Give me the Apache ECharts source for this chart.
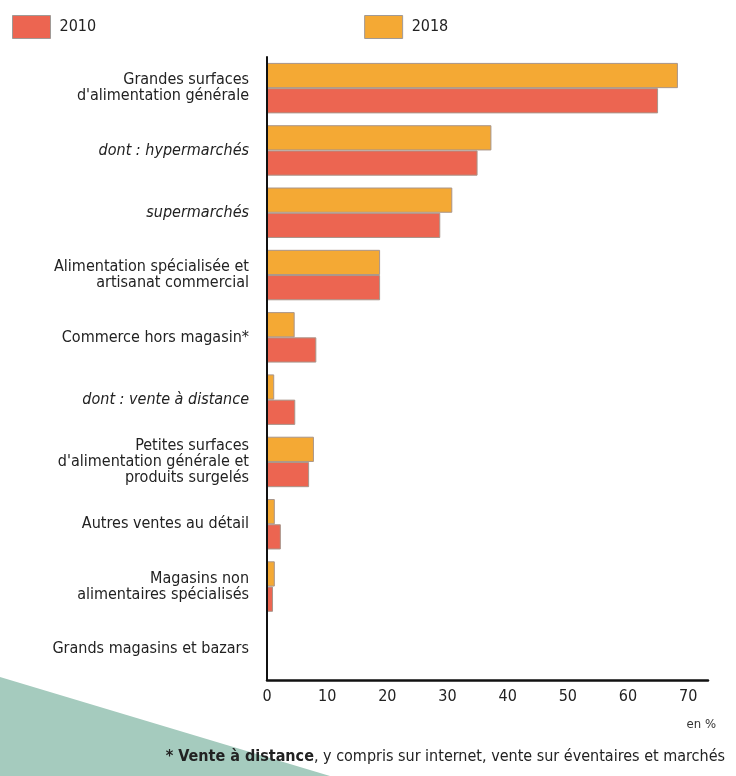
<!DOCTYPE html>
<html>
<head>
<meta charset="utf-8">
<script src="https://cdn.jsdelivr.net/npm/echarts@6/dist/echarts.min.js"></script>
<style>
html,body{margin:0;padding:0;background:#fff;}
#main{width:736px;height:776px;}
</style>
</head>
<body>
<div id="main"></div>
<script>
var categories = [
  "Grandes surfaces\nd'alimentation générale",
  "dont : hypermarchés",
  "supermarchés",
  "Alimentation spécialisée et\nartisanat commercial",
  "Commerce hors magasin*",
  "dont : vente à distance",
  "Petites surfaces\nd'alimentation générale et\nproduits surgelés",
  "Autres ventes au détail",
  "Magasins non\nalimentaires spécialisés",
  "Grands magasins et bazars"
];
var italicCategories = ["dont : hypermarchés", "supermarchés", "dont : vente à distance"];
var values2010 = [65.0, 35.0, 28.8, 18.8, 8.2, 4.7, 7.0, 2.3, 1.0, 0];
var values2018 = [68.3, 37.3, 30.8, 18.8, 4.6, 1.2, 7.8, 1.3, 1.3, 0];
var xTicks = [0, 10, 20, 30, 40, 50, 60, 70];

var FONT = "'DejaVu Sans Condensed', 'Liberation Sans Narrow', sans-serif";
var C2010 = '#EC6551';
var C2018 = '#F4A934';

var chart = echarts.init(document.getElementById('main'), null, {renderer: 'canvas'});
chart.setOption({
  animation: false,
  backgroundColor: '#ffffff',
  textStyle: {fontFamily: FONT},
  graphic: [{
    type: 'polygon',
    z: -10,
    silent: true,
    shape: {points: [[0, 677], [330, 776], [0, 776]]},
    style: {fill: '#A5CBBE'}
  }],
  title: [{
    text: 'en %',
    right: 15,
    top: 713,
    textStyle: {fontFamily: FONT, fontSize: 13, fontWeight: 'normal', color: '#333'}
  }, {
    text: '{b|* Vente à distance}, y compris sur internet, vente sur éventaires et marchés',
    right: 6,
    top: 744,
    textStyle: {
      fontFamily: FONT, fontSize: 16, fontWeight: 'normal', color: '#222',
      rich: {b: {fontFamily: FONT, fontSize: 16, fontWeight: 'bold', color: '#222'}}
    }
  }],
  legend: {
    data: ['2010', '2018'],
    left: 7,
    top: 10,
    itemWidth: 38,
    itemHeight: 23,
    itemGap: 268,
    icon: 'rect',
    textStyle: {fontFamily: FONT, fontSize: 16, color: '#222', padding: [0, 0, 0, 4]},
    itemStyle: {borderColor: '#a09a96', borderWidth: 1}
  },
  grid: {left: 267, right: 28, top: 57, bottom: 96, containLabel: false},
  xAxis: {
    type: 'value',
    min: 0,
    max: 73.3,
    interval: 10,
    z: 5,
    splitLine: {show: false},
    axisTick: {show: false},
    axisLine: {show: true, lineStyle: {color: '#111', width: 2.5}},
    axisLabel: {
      margin: 9,
      fontFamily: FONT,
      fontSize: 16,
      color: '#222',
      showMaxLabel: false,
      formatter: function (v) { return xTicks.indexOf(v) >= 0 ? String(v) : ''; }
    }
  },
  yAxis: {
    type: 'category',
    data: categories,
    inverse: true,
    z: 5,
    axisTick: {show: false},
    axisLine: {show: true, lineStyle: {color: '#111', width: 2}},
    axisLabel: {
      margin: 18,
      fontFamily: FONT,
      fontSize: 16,
      lineHeight: 16,
      color: '#222',
      formatter: function (v) {
        return italicCategories.indexOf(v) >= 0 ? '{i|' + v + '}' : v;
      },
      rich: {i: {fontStyle: 'italic', fontFamily: FONT, fontSize: 16, color: '#222'}}
    }
  },
  series: [{
    name: '2018',
    type: 'bar',
    data: values2018,
    barGap: '0%',
    barCategoryGap: '19%',
    itemStyle: {color: C2018, borderColor: '#a8958a', borderWidth: 1}
  }, {
    name: '2010',
    type: 'bar',
    data: values2010,
    barGap: '0%',
    barCategoryGap: '19%',
    itemStyle: {color: C2010, borderColor: '#a8958a', borderWidth: 1}
  }]
});
</script>
</body>
</html>
